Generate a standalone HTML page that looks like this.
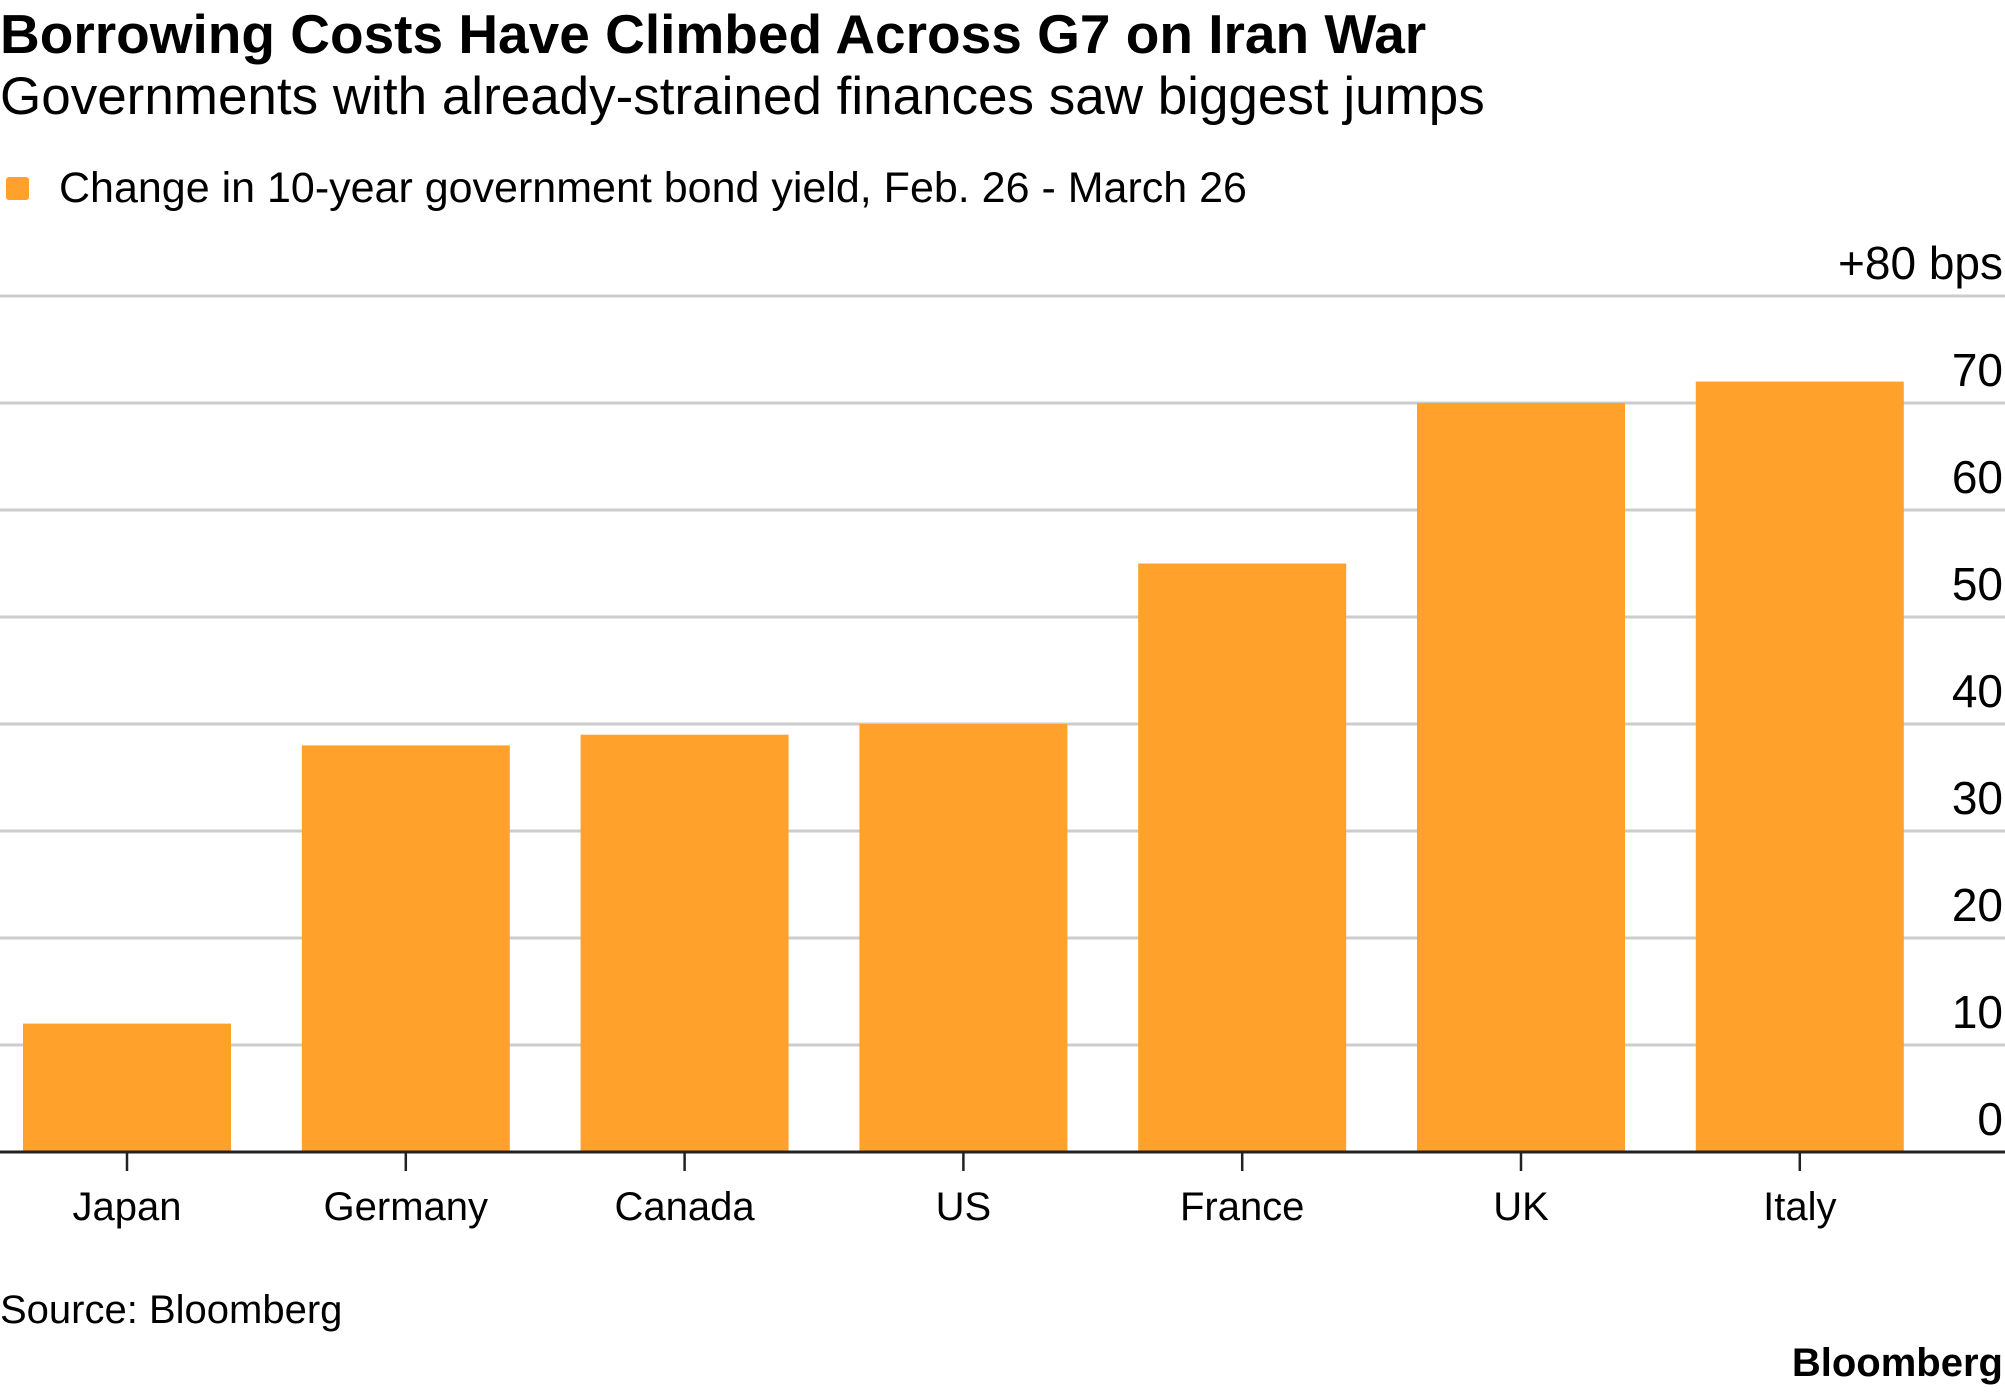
<!DOCTYPE html>
<html><head><meta charset="utf-8"><style>
body{margin:0;background:#fff;font-family:"Liberation Sans",Arial,sans-serif;}
svg{display:block}
</style></head><body>
<svg id="chart" width="2005" height="1392" viewBox="0 0 2005 1392">
<text x="0" y="53" font-size="55" font-weight="bold" fill="#000">Borrowing Costs Have Climbed Across G7 on Iran War</text>
<text x="0" y="114" font-size="53" fill="#000">Governments with already-strained finances saw biggest jumps</text>
<rect x="6" y="177" width="23" height="23" rx="3" fill="#FFA12B"/>
<text x="59" y="202" font-size="43" fill="#000">Change in 10-year government bond yield, Feb. 26 - March 26</text>
<g id="grid"></g>
<g id="bars"></g>
<g id="xaxis"></g>
<text x="0" y="1323" font-size="40" fill="#000">Source: Bloomberg</text>
<text x="2003" y="1376" font-size="40" font-weight="bold" text-anchor="end" fill="#000">Bloomberg</text>
</svg>
<script>
const categories = ["Japan","Germany","Canada","US","France","UK","Italy"];
const values = [12, 38, 39, 40, 55, 70, 72];
const yTicks = [0,10,20,30,40,50,60,70,80];
const yTickLabels = ["0","10","20","30","40","50","60","70","+80 bps"];

const NS="http://www.w3.org/2000/svg";
const y0=1152, yTop=296, yMax=80;
function y(v){return y0-(v/yMax)*(y0-yTop);}
const step=278.8, bw=208, x0=23;
function xLeft(i){return x0+i*step;}
function xCenter(i){return xLeft(i)+bw/2;}
function mk(tag,attrs,parent){const e=document.createElementNS(NS,tag);for(const k in attrs)e.setAttribute(k,attrs[k]);parent.appendChild(e);return e;}

const grid=document.getElementById('grid');
yTicks.forEach((t,i)=>{
  if(t!==0){
    const l=mk('line',{x1:0,x2:2005,y1:y(t),y2:y(t),stroke:'#cccccc','stroke-width':3},grid);
    
    
  }
  const tx=mk('text',{x:2003,y:y(t)-17,'font-size':46,'text-anchor':'end',fill:'#000'},grid);
  tx.textContent=yTickLabels[i];
  
  
});

const bars=document.getElementById('bars');
values.forEach((v,i)=>{
  const r=mk('rect',{x:xLeft(i),y:y(v),width:bw,height:y0-y(v),fill:'#FFA12B'},bars);
  
  
});

const xa=document.getElementById('xaxis');
const base=mk('line',{x1:0,x2:2005,y1:y0,y2:y0,stroke:'#222','stroke-width':3},xa);


categories.forEach((c,i)=>{
  const t=mk('line',{x1:xCenter(i),x2:xCenter(i),y1:y0,y2:y0+19,stroke:'#222','stroke-width':2.5},xa);
  
  
  const l=mk('text',{x:xCenter(i),y:1220,'font-size':40,'text-anchor':'middle',fill:'#000'},xa);
  l.textContent=c;
  
  
});
</script>
</body></html>
